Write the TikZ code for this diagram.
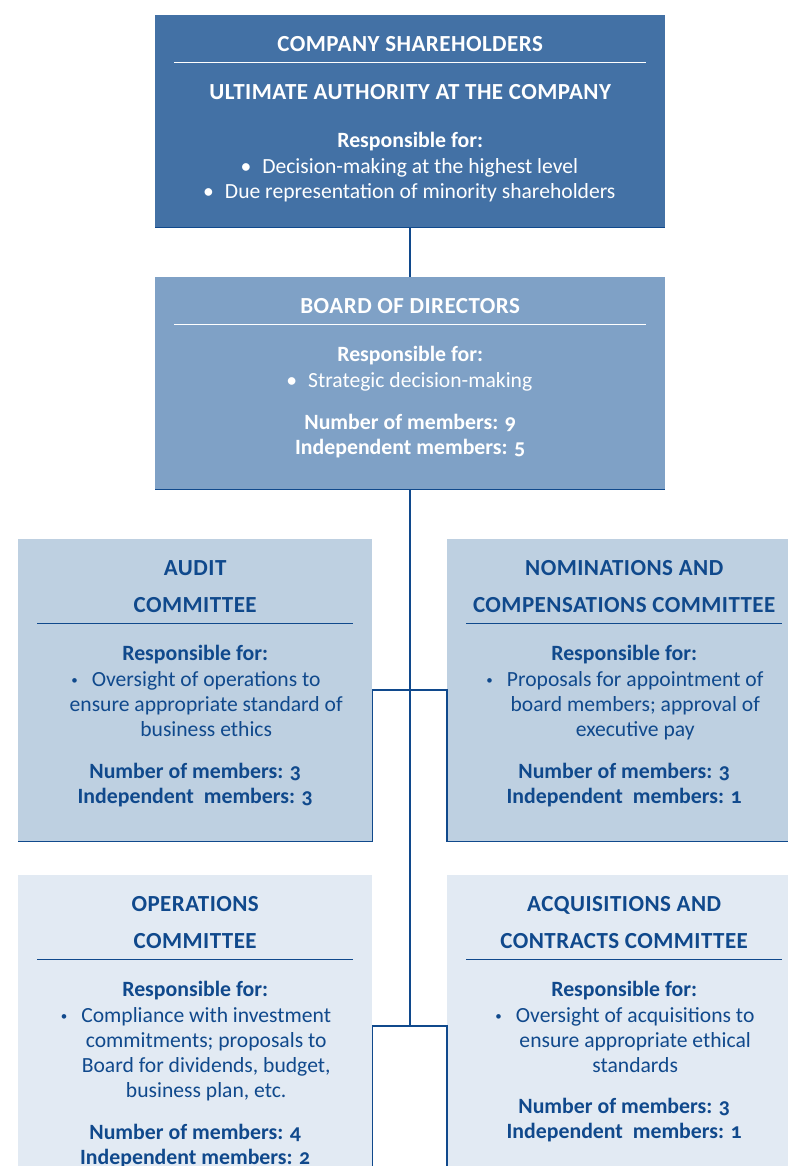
\documentclass[tikz,border=0pt]{standalone}
\usepackage{fontspec}
\setmainfont{Carlito}[Numbers=OldStyle]
\newfontfamily\headfont{Carlito}[LetterSpace=2, Numbers=OldStyle]
\usetikzlibrary{positioning}

\definecolor{deepblue}{HTML}{4371A5}
\definecolor{midblue}{HTML}{7FA1C6}
\definecolor{paleblue}{HTML}{BED0E1}
\definecolor{mistblue}{HTML}{E2EAF3}
\definecolor{inkblue}{HTML}{10498C}

% centred stack of lines, baseline on the first one
\newcommand{\stacklines}[1]{\begin{tabular}[t]{@{}c@{}}#1\end{tabular}}
\newcommand{\bigdot}{\llap{\textbullet\hspace{11pt}}}
\newcommand{\smalldot}{\llap{\raisebox{1.5pt}{\scalebox{0.6}{\textbullet}}\hspace{14pt}}}

\tikzset{
  panel/.style = {rectangle, anchor=north west, inner sep=0pt,
    minimum width=510pt, minimum height=212pt},
  committee/.style = {minimum width=354pt, minimum height=302pt},
  headtext/.style = {inner sep=0pt, font=\headfont\bfseries\fontsize{23}{37}\selectfont},
  bodytext/.style = {inner sep=0pt, font=\fontsize{21.6}{25}\selectfont},
  boldtext/.style = {inner sep=0pt, font=\bfseries\fontsize{21.8}{25}\selectfont},
  link/.style = {draw=inkblue, line width=1.5pt},
  whiterule/.style = {draw=white, line width=1pt},
  bluerule/.style = {draw=inkblue, line width=1pt},
}

\begin{document}
\begin{tikzpicture}[x=1pt, y=1pt]
  \useasboundingbox (0,0) rectangle (787,-1166);

  % boxes
  \node[panel, fill=deepblue] (share) at (155,-15) {};
  \node[panel, fill=midblue]  (board) at (155,-277) {};
  \node[panel, committee, fill=paleblue] (audit) at (18,-539) {};
  \node[panel, committee, fill=paleblue] (nomin) at (447,-539) {};
  \node[panel, committee, fill=mistblue] (oper)  at (18,-875) {};
  \node[panel, committee, fill=mistblue] (acqui) at (447,-875) {};

  % connectors
  \draw[link] (share.south west) -- (share.south east);
  \draw[link] (board.south west) -- (board.south east);
  \draw[link] (share.south) -- (board.north);
  \draw[link] (board.south) -- (board.south |- oper.east);
  \draw[link] (audit.south west) -- (audit.south east) -- (audit.east)
    -- (nomin.west) -- (nomin.south west) -- (nomin.south east);
  \draw[link] (oper.south east) -- (oper.east) -- (acqui.west) -- (acqui.south west);

  % shareholders
  \node[headtext, text=white, below=37pt of share.north, anchor=base] (share-title) {COMPANY SHAREHOLDERS};
  \draw[whiterule] ([xshift=19pt, yshift=-48pt]share.north west) -- ([xshift=-19pt, yshift=-48pt]share.north east);
  \node[headtext, text=white, below=85pt of share.north, anchor=base] (share-sub) {ULTIMATE AUTHORITY AT THE COMPANY};
  \node[boldtext, text=white, below=133pt of share.north, anchor=base] (share-resp) {Responsible for:};
  \node[bodytext, text=white, below=159pt of share.north, anchor=base, xshift=10pt] (share-items)
    {\stacklines{\bigdot Decision-making at the highest level\\
                 \bigdot Due representation of minority shareholders}};

  % board
  \node[headtext, text=white, below=36pt of board.north, anchor=base] (board-title) {BOARD OF DIRECTORS};
  \draw[whiterule] ([xshift=19pt, yshift=-47pt]board.north west) -- ([xshift=-19pt, yshift=-47pt]board.north east);
  \node[boldtext, text=white, below=84pt of board.north, anchor=base] (board-resp) {Responsible for:};
  \node[bodytext, text=white, below=110pt of board.north, anchor=base, xshift=10pt] (board-items)
    {\stacklines{\bigdot Strategic decision-making}};
  \node[boldtext, text=white, below=152pt of board.north, anchor=base] (board-count)
    {\stacklines{Number of members: 9\\ Independent members: 5}};

  % audit
  \node[headtext, text=inkblue, below=36pt of audit.north, anchor=base] (audit-title) {\stacklines{AUDIT\\ COMMITTEE}};
  \draw[bluerule] ([xshift=19pt, yshift=-84pt]audit.north west) -- ([xshift=-19pt, yshift=-84pt]audit.north east);
  \node[boldtext, text=inkblue, below=121pt of audit.north, anchor=base] (audit-resp) {Responsible for:};
  \node[bodytext, text=inkblue, below=147pt of audit.north, anchor=base, xshift=11pt] (audit-items)
    {\stacklines{\smalldot Oversight of operations to\\ ensure appropriate standard of\\ business ethics}};
  \node[boldtext, text=inkblue, below=239pt of audit.north, anchor=base] (audit-count)
    {\stacklines{Number of members: 3\\ Independent\ \ members: 3}};

  % nominations
  \node[headtext, text=inkblue, below=36pt of nomin.north, anchor=base] (nomin-title) {\stacklines{NOMINATIONS AND\\ COMPENSATIONS COMMITTEE}};
  \draw[bluerule] ([xshift=19pt, yshift=-84pt]nomin.north west) -- ([xshift=-19pt, yshift=-84pt]nomin.north east);
  \node[boldtext, text=inkblue, below=121pt of nomin.north, anchor=base] (nomin-resp) {Responsible for:};
  \node[bodytext, text=inkblue, below=147pt of nomin.north, anchor=base, xshift=11pt] (nomin-items)
    {\stacklines{\smalldot Proposals for appointment of\\ board members; approval of\\ executive pay}};
  \node[boldtext, text=inkblue, below=239pt of nomin.north, anchor=base] (nomin-count)
    {\stacklines{Number of members: 3\\ Independent\ \ members: 1}};

  % operations
  \node[headtext, text=inkblue, below=36pt of oper.north, anchor=base] (oper-title) {\stacklines{OPERATIONS\\ COMMITTEE}};
  \draw[bluerule] ([xshift=19pt, yshift=-84pt]oper.north west) -- ([xshift=-19pt, yshift=-84pt]oper.north east);
  \node[boldtext, text=inkblue, below=121pt of oper.north, anchor=base] (oper-resp) {Responsible for:};
  \node[bodytext, text=inkblue, below=147pt of oper.north, anchor=base, xshift=11pt] (oper-items)
    {\stacklines{\smalldot Compliance with investment\\ commitments; proposals to\\ Board for dividends, budget,\\ business plan, etc.}};
  \node[boldtext, text=inkblue, below=264pt of oper.north, anchor=base] (oper-count)
    {\stacklines{Number of members: 4\\ Independent members: 2}};

  % acquisitions
  \node[headtext, text=inkblue, below=36pt of acqui.north, anchor=base] (acqui-title) {\stacklines{ACQUISITIONS AND\\ CONTRACTS COMMITTEE}};
  \draw[bluerule] ([xshift=19pt, yshift=-84pt]acqui.north west) -- ([xshift=-19pt, yshift=-84pt]acqui.north east);
  \node[boldtext, text=inkblue, below=121pt of acqui.north, anchor=base] (acqui-resp) {Responsible for:};
  \node[bodytext, text=inkblue, below=147pt of acqui.north, anchor=base, xshift=11pt] (acqui-items)
    {\stacklines{\smalldot Oversight of acquisitions to\\ ensure appropriate ethical\\ standards}};
  \node[boldtext, text=inkblue, below=238pt of acqui.north, anchor=base] (acqui-count)
    {\stacklines{Number of members: 3\\ Independent\ \ members: 1}};
\end{tikzpicture}
\end{document}
